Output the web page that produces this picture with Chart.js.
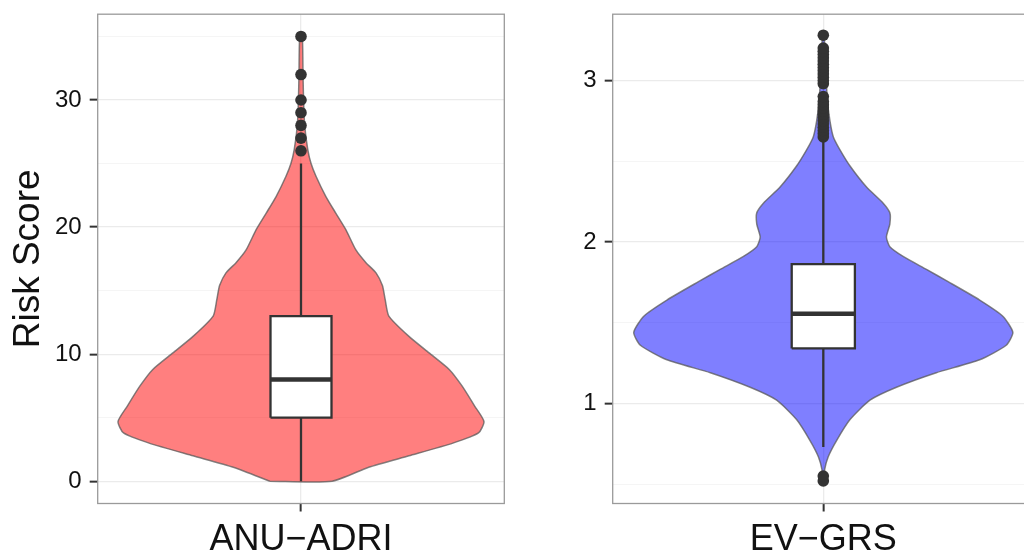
<!DOCTYPE html>
<html>
<head>
<meta charset="utf-8">
<script src="https://cdn.jsdelivr.net/npm/chart.js@4.4.1/dist/chart.umd.min.js"></script>
<style>
  html, body { margin: 0; padding: 0; background: #fff; overflow: hidden; width: 1024px; height: 556px; }
  canvas { position: absolute; top: 0; }
  #anu { left: 0; }
  #ev { left: 540px; }
</style>
</head>
<body>
<canvas id="anu" width="540" height="556"></canvas>
<canvas id="ev" width="500" height="556"></canvas>
<script>
// --- values ---
const categories = ['ANU\u2212ADRI', 'EV\u2212GRS'];
const yTitle = 'Risk Score';

// ANU-ADRI: violin profile (score level -> relative density, widest = 1)
const anuLevels  = [0, 1.1, 2, 3, 3.8, 4.7, 5.9, 7.5, 8.8, 10.1, 11.4, 13, 14.3, 15.4, 16.4, 17.2, 18.2, 19.8, 21.1, 22.4, 24, 25, 26.1, 28, 30, 32, 35];
const anuDensity = [0.17, 0.37, 0.59, 0.83, 0.97, 1.0, 0.95, 0.88, 0.81, 0.70, 0.59, 0.48, 0.46, 0.445, 0.41, 0.355, 0.30, 0.245, 0.19, 0.136, 0.082, 0.055, 0.037, 0.02, 0.014, 0.011, 0.007];
// box: lower whisker, Q1, median, Q3, upper whisker
const anuBox = [0, 5, 8, 13, 25];
const anuOutliers = [26, 27, 28, 29, 30, 32, 35];
const anuTicks = [0, 10, 20, 30];
const anuMinorTicks = [5, 15, 25, 35];
const anuRange = [-1.75, 36.75];

// EV-GRS
const evLevels  = [0.52, 0.59, 0.67, 0.77, 0.9, 1.02, 1.1, 1.19, 1.27, 1.36, 1.44, 1.54, 1.64, 1.76, 1.83, 1.91, 1.97, 2.03, 2.11, 2.18, 2.24, 2.34, 2.47, 2.57, 2.65, 2.75, 2.88, 3.0, 3.15, 3.28];
const evDensity = [0.003, 0.007, 0.026, 0.07, 0.141, 0.246, 0.386, 0.596, 0.825, 0.965, 1.0, 0.947, 0.825, 0.649, 0.544, 0.421, 0.351, 0.333, 0.351, 0.351, 0.316, 0.228, 0.141, 0.088, 0.053, 0.035, 0.021, 0.016, 0.011, 0.003];
const evBox = [0.73, 1.34, 1.555, 1.862, 2.64];
const evOutliers = [0.52, 0.55, 2.65, 2.67, 2.69, 2.71, 2.73, 2.75, 2.77, 2.79, 2.81, 2.83, 2.85, 2.87, 2.9,
                    2.98, 3.0, 3.02, 3.04, 3.06, 3.08, 3.1, 3.12, 3.14, 3.16, 3.18, 3.2, 3.28];
const evTicks = [1, 2, 3];
const evMinorTicks = [0.5, 1.5, 2.5];
const evRange = [0.38, 3.41];

const VIOLIN_W = 0.9;  // half-width of widest violin slice, x axis runs -1..1
const BOX_W = 0.15;
const DARK = '#333333';

Chart.defaults.font.family = '"Liberation Sans", Arial, sans-serif';

function violinOutline(levels, density) {
    const left = levels.map((y, i) => ({ x: -density[i] * VIOLIN_W, y }));
    const right = levels.map((y, i) => ({ x: density[i] * VIOLIN_W, y })).reverse();
    return left.concat(right, [left[0]]);
}

function boxDatasets(box, outliers) {
    const [lo, q1, med, q3, hi] = box;
    return [
        {
            data: [{ x: 0, y: lo }, { x: 0, y: q1 }, { x: 0, y: null }, { x: 0, y: q3 }, { x: 0, y: hi }],
            borderColor: DARK, borderWidth: 2.3, pointRadius: 0, spanGaps: false, order: 4
        },
        {
            data: [{ x: -BOX_W, y: q1 }, { x: BOX_W, y: q1 }, { x: BOX_W, y: q3 }, { x: -BOX_W, y: q3 }, { x: -BOX_W, y: q1 }],
            borderColor: DARK, borderWidth: 2.3, backgroundColor: '#ffffff', fill: 'shape', pointRadius: 0, order: 3
        },
        {
            data: [{ x: -BOX_W, y: med }, { x: BOX_W, y: med }],
            borderColor: DARK, borderWidth: 4.5, pointRadius: 0, order: 2
        },
        {
            data: outliers.map(y => ({ x: 0, y })),
            showLine: false, pointRadius: 5.8, pointBackgroundColor: DARK, pointBorderWidth: 0, order: 1
        }
    ];
}

const panelBorder = {
    id: 'panelBorder',
    afterDraw(chart) {
        const { ctx, chartArea: a } = chart;
        ctx.save();
        ctx.strokeStyle = '#9a9a9a';
        ctx.lineWidth = 1.3;
        ctx.strokeRect(a.left, a.top, a.right - a.left, a.bottom - a.top);
        ctx.restore();
    }
};

function drawPanel(id, cfg) {
    const allTicks = cfg.ticks.concat(cfg.minor).sort((a, b) => a - b);
    const isMajor = v => cfg.ticks.includes(v);
    return new Chart(document.getElementById(id), {
        type: 'line',
        data: {
            datasets: [{
                data: violinOutline(cfg.levels, cfg.density),
                borderColor: 'rgba(90,90,90,0.75)', borderWidth: 1.5,
                backgroundColor: cfg.fill, fill: 'shape',
                pointRadius: 0, tension: 0.2, order: 5
            }].concat(boxDatasets(cfg.box, cfg.outliers))
        },
        options: {
            responsive: false, animation: false, devicePixelRatio: 1,
            layout: { padding: cfg.padding },
            plugins: { legend: { display: false }, tooltip: { enabled: false } },
            scales: {
                x: {
                    type: 'linear', min: -1, max: 1,
                    afterBuildTicks: s => { s.ticks = [{ value: 0 }]; },
                    ticks: { callback: () => cfg.label, font: { size: 36 }, color: '#111', padding: 7, maxRotation: 0 },
                    grid: { color: '#ebebeb', lineWidth: 1.3, tickColor: DARK, tickLength: 8, tickWidth: 2 },
                    border: { display: false },
                    afterFit: s => { s.height = 52.5; s.paddingLeft = 0; s.paddingRight = 0; }
                },
                y: {
                    type: 'linear', min: cfg.range[0], max: cfg.range[1],
                    afterBuildTicks: s => { s.ticks = allTicks.map(v => ({ value: v })); },
                    ticks: { callback: v => isMajor(v) ? String(v) : '', font: { size: 24 }, color: '#111', padding: 8 },
                    grid: {
                        color: c => isMajor(c.tick.value) ? '#ebebeb' : '#f4f4f4',
                        lineWidth: c => isMajor(c.tick.value) ? 1.3 : 0.9,
                        tickColor: c => isMajor(c.tick.value) ? DARK : 'rgba(0,0,0,0)',
                        tickLength: 8, tickWidth: 2
                    },
                    border: { display: false },
                    title: {
                        display: !!cfg.title, text: cfg.title, color: '#111',
                        font: { size: 37 }, padding: { top: 7, bottom: 0 }
                    },
                    afterFit: s => { s.width = cfg.axisWidth; s.paddingTop = 0; s.paddingBottom = 0; }
                }
            }
        },
        plugins: [panelBorder]
    });
}

drawPanel('anu', {
    label: categories[0], title: yTitle,
    levels: anuLevels, density: anuDensity, box: anuBox, outliers: anuOutliers,
    ticks: anuTicks, minor: anuMinorTicks, range: anuRange,
    fill: 'rgba(255,0,0,0.5)', axisWidth: 97.7,
    padding: { top: 14.2, right: 35.7, left: 0, bottom: 0 }
});

drawPanel('ev', {
    label: categories[1], title: '',
    levels: evLevels, density: evDensity, box: evBox, outliers: evOutliers,
    ticks: evTicks, minor: evMinorTicks, range: evRange,
    fill: 'rgba(0,0,255,0.5)', axisWidth: 72.7,
    padding: { top: 14.2, right: 6.1, left: 0, bottom: 0 }
});
</script>
</body>
</html>
